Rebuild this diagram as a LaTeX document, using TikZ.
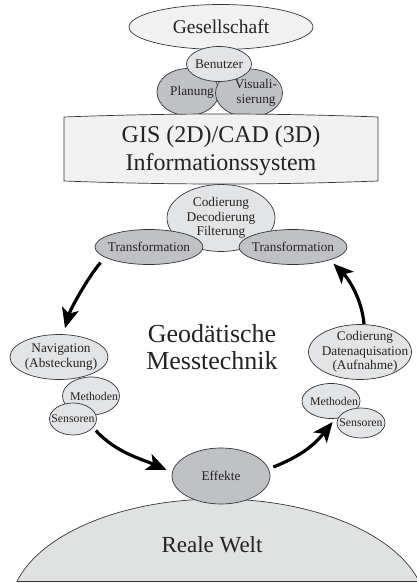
\documentclass[tikz,border=0pt]{standalone}
\usepackage{fontspec}
\setmainfont{Liberation Serif}
\usetikzlibrary{shapes.geometric,arrows.meta,calc}
\definecolor{rand}{RGB}{50,54,60}
\definecolor{hell}{RGB}{227,228,230}
\definecolor{dunkel}{RGB}{192,193,197}
\definecolor{blass}{RGB}{241,241,241}
\definecolor{weltgrau}{RGB}{224,225,225}
\definecolor{schrift}{RGB}{35,35,35}
\tikzset{
	blase/.style={ellipse,draw=rand,line width=0.7pt,fill=hell,inner sep=0pt},
	dunkelblase/.style={blase,fill=dunkel},
	inhalt/.style={align=center,text=schrift,inner sep=0pt,font=\fontsize{13.3}{14.5}\selectfont},
	klein/.style={inhalt,font=\fontsize{11.8}{13}\selectfont},
	grosstext/.style={align=center,text=schrift,inner sep=0pt,font=\fontsize{24}{28}\selectfont},
	fluss/.style={line width=3.2pt,-{Stealth[length=20pt,width=17pt,inset=5pt]}},
}
\begin{document}
\begin{tikzpicture}[x=1pt,y=-1pt]
	\useasboundingbox (0,0) rectangle (417,583);
	% Reale Welt
	\begin{scope}
	\clip (0,0) rectangle (417,581);
	\draw [draw=rand,line width=0.7pt,fill=weltgrau] (218,610) ellipse [x radius=208, y radius=111];
	\end{scope}
	\draw [rand,line width=0.7pt] (17,581)--(417,581);
	\node [grosstext,font=\fontsize{23}{27}\selectfont] (welt) at (212,545) {Reale Welt};
	% Gesellschaft
	\node [blase,fill=blass,minimum width=184pt,minimum height=45pt,label={[inhalt,font=\fontsize{19.5}{22}\selectfont]center:Gesellschaft}] (ges) at (221,27) {};
	\node [dunkelblase,minimum width=62pt,minimum height=47pt,label={[inhalt,xshift=4pt]center:Planung}] (plan) at (188,92) {};
	\node [dunkelblase,minimum width=67pt,minimum height=48pt,label={[inhalt,xshift=7pt]center:{Visuali-\\sierung}}] (vis) at (249,93) {};
	\node [blase,minimum width=65pt,minimum height=35pt,label={[inhalt]center:Benutzer}] (ben) at (219,64) {};
	% Informationssystem
	\node [blase,minimum width=108pt,minimum height=67pt,label={[inhalt]center:{Codierung\\Decodierung\\Filterung}}] (cod) at (221,218) {};
	\draw [draw=rand,line width=0.7pt,fill=blass] (64,117) .. controls (170,113) and (272,113) .. (378,117)
		-- (378,181) .. controls (272,185) and (170,185) .. (64,181) -- cycle;
	\node [grosstext] (gis) at (221,151) {GIS (2D)/CAD (3D)\\Informationssystem};
	\node [dunkelblase,minimum width=108pt,minimum height=35pt,label={[inhalt]center:Transformation}] (trl) at (149,247) {};
	\node [dunkelblase,minimum width=108pt,minimum height=35pt,label={[inhalt]center:Transformation}] (trr) at (293,247) {};
	% Absteckung
	\node [blase,minimum width=98pt,minimum height=45pt,label={[inhalt,xshift=2pt]center:{Navigation\\(Absteckung)}}] (nav) at (59,357) {};
	\node [blase,minimum width=57pt,minimum height=38pt,label={[klein,xshift=3pt]center:Methoden}] (metl) at (91,396) {};
	\node [blase,minimum width=47pt,minimum height=32pt,label={[klein]center:Sensoren}] (senl) at (73,419) {};
	% Aufnahme
	\node [blase,minimum width=103pt,minimum height=55pt,label={[inhalt,xshift=5pt]center:{Codierung\\Datenaquisation\\(Aufnahme)}}] (codr) at (360,352) {};
	\node [blase,minimum width=58pt,minimum height=35pt,label={[klein,xshift=3pt]center:Methoden}] (metr) at (331,401) {};
	\node [blase,minimum width=48pt,minimum height=30pt,label={[klein]center:Sensoren}] (senr) at (361,423) {};
	\node [dunkelblase,minimum width=98pt,minimum height=56pt,label={[inhalt]center:Effekte}] (eff) at (221,476) {};
	\node [grosstext,font=\fontsize{26}{27}\selectfont] (geo) at (212,347) {Geodätische\\Messtechnik};
	% Kreislauf
	\draw [fluss] ($(trl.south west)+(-10,3)$) .. controls +(-13,15) and +(5,-18) .. ($(nav.north)+(6,-6)$);
	\draw [fluss] ($(senl.south east)+(6,0)$) .. controls +(20,22) and +(-25,-11) .. ($(eff.west)+(-5,-6)$);
	\draw [fluss] ($(eff.east)+(3,-9)$) .. controls +(25,-10) and +(-20,25) .. ($(senr.west)+(-4,-1)$);
	\draw [fluss] ($(codr.north)+(4,0)$) .. controls +(-2,-25) and +(15,15) .. ($(trr.south east)+(2,4)$);
\end{tikzpicture}
\end{document}
